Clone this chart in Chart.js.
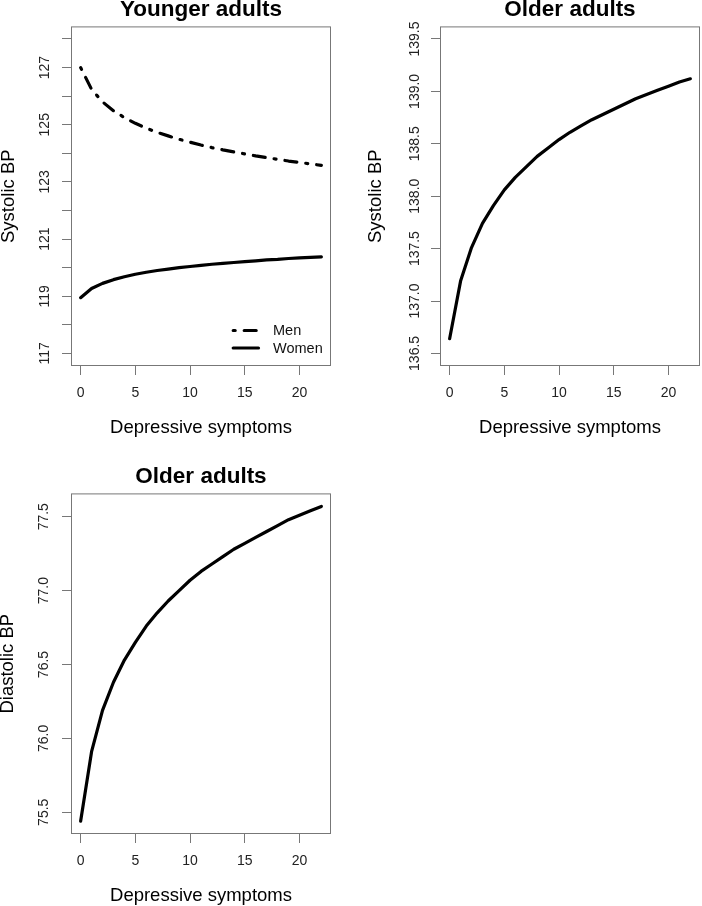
<!DOCTYPE html>
<html>
<head>
<meta charset="utf-8">
<script src="https://cdn.jsdelivr.net/npm/chart.js@4.4.0/dist/chart.umd.min.js"></script>
<style>
  html, body { margin: 0; padding: 0; background: #fff; overflow: hidden; }
  body { width: 702px; height: 906px; position: relative; }
  canvas { position: absolute; }
</style>
</head>
<body>
<canvas id="youngSys" width="351" height="440" style="left:0;top:0"></canvas>
<canvas id="olderSys" width="351" height="440" style="left:351px;top:0"></canvas>
<canvas id="olderDia" width="351" height="450" style="left:0;top:458px"></canvas>
<script>
// depressive symptom score (x)
const symptoms = [0, 1, 2, 3, 4, 5, 6, 7, 8, 9, 10, 11, 12, 13, 14, 15, 16, 17, 18, 19, 20, 21, 22];

// younger adults, systolic BP
const menSys = [127.00, 126.24, 125.80, 125.49, 125.25, 125.05, 124.88, 124.73, 124.61, 124.49, 124.39, 124.29,
  124.20, 124.12, 124.05, 123.98, 123.91, 123.85, 123.79, 123.73, 123.68, 123.63, 123.58];
const womenSys = [118.95, 119.27, 119.45, 119.58, 119.68, 119.77, 119.84, 119.90, 119.95, 120.00, 120.04, 120.08,
  120.12, 120.15, 120.18, 120.21, 120.24, 120.27, 120.29, 120.32, 120.34, 120.36, 120.38];

// older adults
const olderSys = [136.64, 137.19, 137.51, 137.74, 137.91, 138.06, 138.18, 138.28, 138.38, 138.46, 138.54, 138.61,
  138.67, 138.73, 138.78, 138.83, 138.88, 138.93, 138.97, 139.01, 139.05, 139.09, 139.12];
const olderDia = [75.44, 75.91, 76.19, 76.38, 76.53, 76.65, 76.76, 76.85, 76.93, 77.00, 77.07, 77.13,
  77.18, 77.23, 77.28, 77.32, 77.36, 77.40, 77.44, 77.48, 77.51, 77.54, 77.57];

// ticks
const xTicks = [0, 5, 10, 15, 20];
const youngTicks = [117, 118, 119, 120, 121, 122, 123, 124, 125, 126, 127, 128];
const youngLabels = ['117', '', '119', '', '121', '', '123', '', '125', '', '127', ''];
const olderSysTicks = [136.5, 137, 137.5, 138, 138.5, 139, 139.5];
const olderDiaTicks = [75.5, 76, 76.5, 77, 77.5];

Chart.defaults.font.family = "'Liberation Sans', Arial, sans-serif";
Chart.defaults.color = '#222';

const pts = (ys) => symptoms.map((x, i) => ({ x: x, y: ys[i] }));

// R style box round the plot region
const boxPlugin = {
  id: 'rBox',
  beforeDatasetsDraw(chart) {
    const { ctx, chartArea: a } = chart;
    ctx.save();
    ctx.strokeStyle = '#777';
    ctx.lineWidth = 1;
    ctx.strokeRect(a.left + 0.5, a.top + 0.5, a.width - 1, a.height - 1);
    ctx.restore();
  }
};

// legend in the bottom right corner of the plot
const legendPlugin = {
  id: 'rLegend',
  afterDatasetsDraw(chart) {
    const { ctx, chartArea: a } = chart;
    ctx.save();
    chart.data.datasets.forEach((ds, i) => {
      const y = a.bottom - 35.5 + i * 17.5;
      ctx.strokeStyle = '#000';
      ctx.lineWidth = 3.2;
      ctx.lineCap = 'round';
      ctx.setLineDash(ds.borderDash || []);
      ctx.beginPath();
      ctx.moveTo(a.right - 97.8, y);
      ctx.lineTo(a.right - 72.5, y);
      ctx.stroke();
      ctx.setLineDash([]);
      ctx.fillStyle = '#111';
      ctx.font = "14.5px 'Liberation Sans', Arial, sans-serif";
      ctx.textBaseline = 'middle';
      ctx.textAlign = 'left';
      ctx.fillText(ds.label, a.right - 58, y + 0.6);
    });
    ctx.restore();
  }
};

function panel(id, p) {
  return new Chart(document.getElementById(id), {
    type: 'line',
    data: { datasets: p.datasets },
    options: {
      responsive: false,
      animation: false,
      events: [],
      layout: { padding: { left: 0, right: p.padRight, top: p.padTop, bottom: 0 } },
      elements: {
        point: { radius: 0 },
        line: { borderWidth: 3.2, borderColor: '#000', tension: 0, borderCapStyle: 'round', borderJoinStyle: 'round', fill: false }
      },
      plugins: {
        legend: { display: false },
        tooltip: { enabled: false },
        title: {
          display: true, text: p.title, fullSize: false, color: '#000',
          font: { size: 22.5, weight: 'bold' },
          padding: { top: -3.5, bottom: 2.9 }
        }
      },
      scales: {
        x: {
          type: 'linear', min: -0.88, max: 22.88,
          afterBuildTicks: (s) => { s.ticks = xTicks.map((v) => ({ value: v })); },
          afterFit: (s) => { s.height = 74; },
          grid: { drawOnChartArea: false, drawTicks: true, tickLength: 9, color: '#777', lineWidth: 1 },
          border: { display: false },
          ticks: { autoSkip: false, maxRotation: 0, padding: 10, font: { size: 14 }, callback: (v) => String(v) },
          title: { display: true, text: 'Depressive symptoms', color: '#000', font: { size: 18.5 }, padding: { top: 0, bottom: 1 } }
        },
        y: {
          type: 'linear', min: p.yMin, max: p.yMax,
          afterBuildTicks: (s) => { s.ticks = p.yTicks.map((v) => ({ value: v })); },
          afterFit: (s) => { s.width = p.axisWidth; },
          grid: { drawOnChartArea: false, drawTicks: true, tickLength: 9, color: '#777', lineWidth: 1 },
          border: { display: false },
          ticks: {
            autoSkip: false, minRotation: 90, maxRotation: 90, crossAlign: 'center',
            padding: p.tickPad, font: { size: 14 },
            callback: (v, i) => p.yLabels[i]
          },
          title: { display: true, text: p.yTitle, color: '#000', font: { size: 18.5 }, padding: { top: p.titlePad, bottom: 0 } }
        }
      }
    },
    plugins: p.legend ? [boxPlugin, legendPlugin] : [boxPlugin]
  });
}

panel('youngSys', {
  title: 'Younger adults', yTitle: 'Systolic BP',
  yMin: 116.56, yMax: 128.44, yTicks: youngTicks, yLabels: youngLabels,
  axisWidth: 71, padRight: 20, padTop: 0, tickPad: 5.6, titlePad: -2.4, legend: true,
  datasets: [
    { label: 'Men', data: pts(menSys), borderDash: [2, 9, 12, 9] },
    { label: 'Women', data: pts(womenSys) }
  ]
});

panel('olderSys', {
  title: 'Older adults', yTitle: 'Systolic BP',
  yMin: 136.38, yMax: 139.62, yTicks: olderSysTicks, yLabels: olderSysTicks.map((v) => v.toFixed(1)),
  axisWidth: 89, padRight: 2, padTop: 0, tickPad: -1.7, titlePad: 13.9,
  datasets: [{ label: 'Older adults', data: pts(olderSys) }]
});

panel('olderDia', {
  title: 'Older adults', yTitle: 'Diastolic BP',
  yMin: 75.353, yMax: 77.658, yTicks: olderDiaTicks, yLabels: olderDiaTicks.map((v) => v.toFixed(1)),
  axisWidth: 71, padRight: 20, padTop: 9, tickPad: 4.2, titlePad: -2.7,
  datasets: [{ label: 'Older adults', data: pts(olderDia) }]
});
</script>
</body>
</html>
